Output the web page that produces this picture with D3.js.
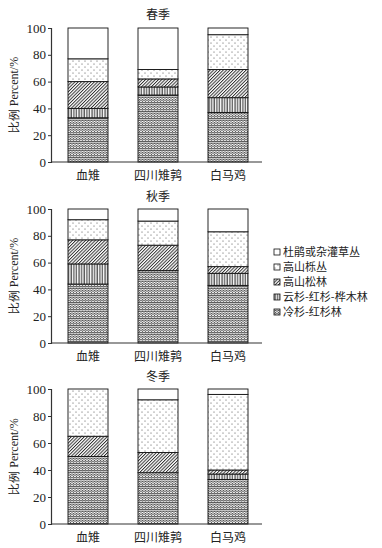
<!DOCTYPE html>
<html lang="zh">
<head>
    <meta charset="UTF-8">
    <title></title>
    <style type="text/css">
        html, body { padding:0; margin:0; background:#fff; }
        text { fill:#222; }
    </style>
</head>
<body>
<script src="https://d3js.org/d3.v7.min.js"></script>
<script>
    // categories and series (bottom -> top)
    var birds = ['血雉', '四川雉鹑', '白马鸡'];
    var habitats = ['冷杉-红杉林', '云杉-红杉-桦木林', '高山松林', '高山栎丛', '杜鹃或杂灌草丛'];
    var seasons = ['春季', '秋季', '冬季'];
    var yTicks = [0, 20, 40, 60, 80, 100];

    // percent of each habitat, per bird, rows follow habitats order
    var spring = [
        [33, 50, 37],
        [7, 6, 11],
        [20, 6, 21],
        [17, 7, 26],
        [23, 31, 5]
    ];
    var autumn = [
        [44, 54, 43],
        [15, 0, 9],
        [18, 19, 5],
        [15, 18, 26],
        [8, 9, 17]
    ];
    var winter = [
        [50, 38, 33],
        [0, 0, 4],
        [15, 15, 3],
        [35, 39, 56],
        [0, 8, 4]
    ];
    var seasonData = [spring, autumn, winter];

    var chart = {};

    chart.options = {
        width: 382,
        height: 548,
        panels: [
            { top: 28, bottom: 162, title: 15 },
            { top: 209, bottom: 343, title: 197 },
            { top: 389, bottom: 524, title: 377 }
        ],
        axisX: 51,
        axisEnd: 262,
        fills: ['url(#zigzag)', 'url(#vlines)', 'url(#diag)', 'url(#dots)', '#fff'],
        cn: '"Noto Sans CJK SC", sans-serif',
        serif: '"Liberation Serif", "DejaVu Serif", serif'
    };

    chart.defs = function(svg) {
        var defs = svg.append('defs');

        var z = defs.append('pattern').attr('id', 'zigzag').attr('patternUnits', 'userSpaceOnUse')
            .attr('width', 3).attr('height', 2.3);
        z.append('rect').attr('width', 3).attr('height', 2.3).attr('fill', '#fff');
        z.append('path').attr('d', 'M0,1.8 L1.5,0.5 L3,1.8')
            .attr('fill', 'none').attr('stroke', '#222').attr('stroke-width', 0.8);

        var v = defs.append('pattern').attr('id', 'vlines').attr('patternUnits', 'userSpaceOnUse')
            .attr('width', 2.6).attr('height', 4);
        v.append('rect').attr('width', 2.6).attr('height', 4).attr('fill', '#fff');
        v.append('line').attr('x1', 1).attr('x2', 1).attr('y1', 0).attr('y2', 4)
            .attr('stroke', '#222').attr('stroke-width', 1);

        var d = defs.append('pattern').attr('id', 'diag').attr('patternUnits', 'userSpaceOnUse')
            .attr('width', 2.3).attr('height', 2.3).attr('patternTransform', 'rotate(45)');
        d.append('rect').attr('width', 2.3).attr('height', 2.3).attr('fill', '#fff');
        d.append('line').attr('x1', 0.5).attr('x2', 0.5).attr('y1', 0).attr('y2', 2.3)
            .attr('stroke', '#222').attr('stroke-width', 0.9);

        var p = defs.append('pattern').attr('id', 'dots').attr('patternUnits', 'userSpaceOnUse')
            .attr('width', 6).attr('height', 6);
        p.append('rect').attr('width', 6).attr('height', 6).attr('fill', '#fff');
        p.append('circle').attr('cx', 1).attr('cy', 1).attr('r', 0.55).attr('fill', '#444');
        p.append('circle').attr('cx', 4).attr('cy', 4).attr('r', 0.55).attr('fill', '#444');
    };

    chart.renderPanel = function(svg, i) {
        var o = this.options,
            pan = o.panels[i],
            data = seasonData[i];

        var x = d3.scaleBand().domain(birds).range([53, 263])
                  .paddingInner(30 / 70).paddingOuter(15 / 70);
        var y = d3.scaleLinear().domain([0, 100]).range([pan.bottom, pan.top]);

        var series = d3.stack().keys(d3.range(habitats.length))(
            birds.map(function(b, j) {
                var row = {};
                habitats.forEach(function(h, k) { row[k] = data[k][j]; });
                return row;
            })
        );

        var g = svg.append('g');

        g.selectAll('g.layer').data(series).enter().append('g')
          .attr('class', 'layer')
          .attr('fill', function(s, k) { return o.fills[k]; })
          .each(function(s) {
              d3.select(this).selectAll('rect')
                .data(s.map(function(d, j) { return { lo: d[0], hi: d[1], bird: birds[j] }; })
                       .filter(function(d) { return d.hi > d.lo; }))
                .enter().append('rect')
                .attr('x', function(d) { return x(d.bird); })
                .attr('width', x.bandwidth())
                .attr('y', function(d) { return y(d.hi); })
                .attr('height', function(d) { return y(d.lo) - y(d.hi); })
                .attr('stroke', '#111').attr('stroke-width', 0.9);
          });

        var ya = g.append('g')
          .attr('transform', 'translate(' + o.axisX + ',0)')
          .call(d3.axisLeft(y).tickValues(yTicks).tickSize(3).tickPadding(2));
        ya.select('.domain').attr('stroke', '#333').attr('stroke-width', 1.2);
        ya.selectAll('.tick line').attr('stroke', '#333');
        ya.selectAll('.tick text').style('font-family', o.serif).style('font-size', '13px').attr('fill', '#222');

        g.append('line')
          .attr('x1', o.axisX).attr('x2', o.axisEnd)
          .attr('y1', pan.bottom).attr('y2', pan.bottom)
          .attr('stroke', '#333').attr('stroke-width', 1.2);

        g.selectAll('text.cat').data(birds).enter().append('text')
          .attr('class', 'cat')
          .attr('x', function(b) { return x(b) + x.bandwidth() / 2; })
          .attr('y', pan.bottom + 18)
          .attr('text-anchor', 'middle')
          .style('font-family', o.cn).style('font-size', '12px')
          .text(function(b) { return b; });

        g.append('text')
          .attr('x', 158).attr('y', pan.title + 4)
          .attr('text-anchor', 'middle')
          .style('font-family', o.cn).style('font-size', '12px')
          .text(seasons[i]);

        g.append('text')
          .attr('transform', 'translate(18,' + ((pan.top + pan.bottom) / 2) + ') rotate(-90)')
          .attr('text-anchor', 'middle')
          .style('font-family', o.serif).style('font-size', '12px')
          .text('比例 Percent/%');
    };

    chart.renderLegend = function(svg) {
        var o = this.options;
        var items = habitats.slice().reverse();
        var fills = o.fills.slice().reverse();
        var lg = svg.append('g').attr('transform', 'translate(274,252)');
        var row = lg.selectAll('g').data(items).enter().append('g')
          .attr('transform', function(d, k) { return 'translate(0,' + (k * 15) + ')'; });
        row.append('rect')
          .attr('x', 0).attr('y', -3).attr('width', 6).attr('height', 6)
          .attr('fill', function(d, k) { return fills[k]; })
          .attr('stroke', '#111').attr('stroke-width', 0.8);
        row.append('text')
          .attr('x', 9).attr('y', 4)
          .style('font-family', o.cn).style('font-size', '11px')
          .text(function(d) { return d; });
    };

    chart.init = function() {
        var svg = d3.select('body').append('svg')
          .attr('width', this.options.width)
          .attr('height', this.options.height);
        this.defs(svg);
        for (var i = 0; i < seasons.length; i++) this.renderPanel(svg, i);
        this.renderLegend(svg);
    };

    chart.init();
</script>
</body>
</html>
